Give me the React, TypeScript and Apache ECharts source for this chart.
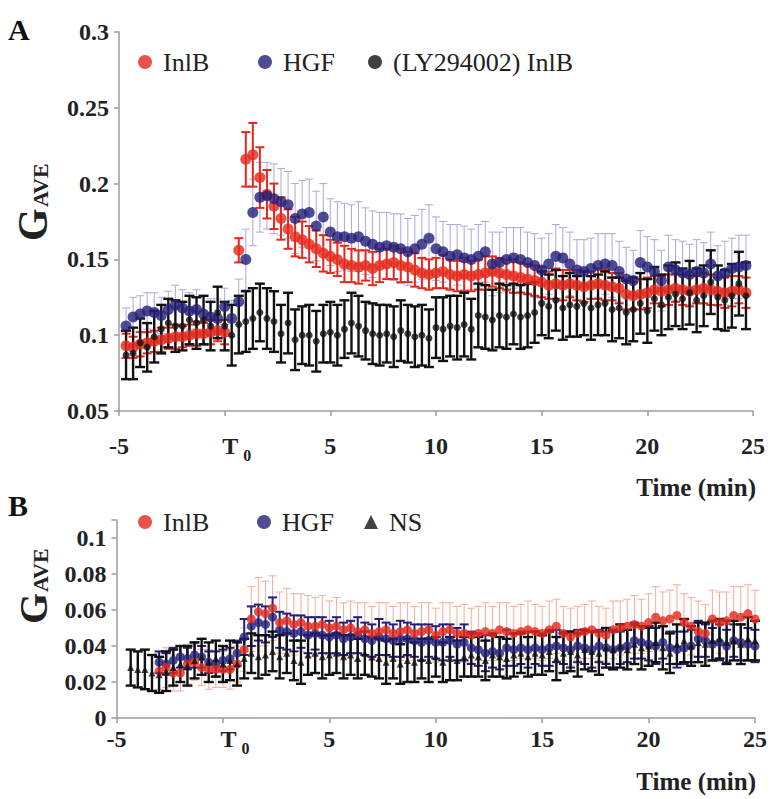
import React, { useEffect, useRef } from 'react';
import * as echarts from 'echarts';

// sampling grid: every 20 s from -5 to 25 min (k = 0..90)
const TIME_MIN: number[] = Array.from({ length: 91 }, (_, k) => Math.round((-5 + k / 3) * 1000) / 1000);

// ---------- Panel A ----------
const inlbA: (number | null)[] = [
  null,
  0.093, 0.092, 0.094, 0.095, 0.096, 0.097, 0.098, 0.099, 0.099, 0.100, 0.101, 0.101, 0.102, 0.103, 0.102,
  null,
  0.156, 0.216, 0.219, 0.204, 0.193, 0.185, 0.177, 0.170, 0.165, 0.163, 0.160, 0.157, 0.154,
  0.152, 0.150, 0.147, 0.146, 0.145, 0.146, 0.144, 0.146, 0.147, 0.148, 0.146, 0.145, 0.143, 0.141, 0.140,
  0.141, 0.142, 0.140, 0.139, 0.140, 0.139, 0.140, 0.141, 0.142, 0.141, 0.140, 0.139, 0.138, 0.137, 0.136,
  0.135, 0.133, 0.134, 0.133, 0.134, 0.133, 0.132, 0.133, 0.134, 0.133, 0.132, 0.131, 0.127, 0.126, 0.127,
  0.128, 0.130, 0.129, 0.130, 0.131, 0.130, 0.129, 0.130, 0.131, 0.130, 0.129, 0.128, 0.129, 0.130, 0.128,
  null,
];
const inlbAErr: (number | null)[] = [
  null,
  0.008, 0.007, 0.008, 0.007, 0.007, 0.008, 0.007, 0.008, 0.007, 0.007, 0.008, 0.007, 0.008, 0.007, 0.008,
  null,
  0.008, 0.018, 0.021, 0.020, 0.016, 0.015, 0.014, 0.013, 0.013, 0.012, 0.012, 0.012, 0.012,
  0.011, 0.011, 0.012, 0.011, 0.011, 0.010, 0.011, 0.011, 0.010, 0.011, 0.011, 0.010, 0.011, 0.010, 0.010,
  0.010, 0.011, 0.010, 0.010, 0.011, 0.010, 0.010, 0.011, 0.010, 0.010, 0.010, 0.011, 0.010, 0.010, 0.010,
  0.010, 0.009, 0.010, 0.010, 0.009, 0.010, 0.010, 0.009, 0.010, 0.010, 0.009, 0.010, 0.010, 0.009, 0.010,
  0.010, 0.009, 0.010, 0.010, 0.009, 0.010, 0.010, 0.009, 0.010, 0.010, 0.009, 0.010, 0.010, 0.009, 0.010,
  null,
];
const hgfA: (number | null)[] = [
  null,
  0.106, 0.112, 0.114, 0.116, 0.115, 0.113, 0.117, 0.120, 0.118, 0.116, 0.117, 0.114, 0.112, 0.111, 0.119,
  0.111, 0.122, 0.150, 0.181, 0.191, 0.192, 0.190, 0.188, 0.186, 0.177, 0.180, 0.181, 0.172, 0.178,
  0.168, 0.165, 0.165, 0.164, 0.165, 0.162, 0.160, 0.158, 0.159, 0.158, 0.157, 0.155, 0.157, 0.160, 0.164,
  0.157, 0.155, 0.152, 0.153, 0.151, 0.150, 0.152, 0.155, 0.147, 0.148, 0.150, 0.151, 0.150, 0.148, 0.146,
  0.143, 0.147, 0.152, 0.151, 0.147, 0.143, 0.142, 0.144, 0.146, 0.147, 0.146, 0.142, 0.137, 0.136, 0.148,
  0.145, 0.142, 0.136, 0.145, 0.143, 0.141, 0.140, 0.142, 0.141, 0.147, 0.139, 0.141, 0.144, 0.145, 0.146,
  null,
];
const hgfAErr: (number | null)[] = [
  null,
  0.012, 0.013, 0.012, 0.012, 0.013, 0.012, 0.012, 0.013, 0.012, 0.012, 0.013, 0.012, 0.012, 0.013, 0.012,
  0.012, 0.015, 0.020, 0.022, 0.023, 0.022, 0.023, 0.022, 0.022, 0.023, 0.022, 0.022, 0.023, 0.022,
  0.022, 0.023, 0.022, 0.022, 0.023, 0.022, 0.022, 0.023, 0.022, 0.022, 0.023, 0.022, 0.022, 0.023, 0.022,
  0.021, 0.020, 0.021, 0.020, 0.021, 0.020, 0.021, 0.020, 0.021, 0.020, 0.021, 0.020, 0.021, 0.020, 0.021,
  0.021, 0.020, 0.021, 0.020, 0.021, 0.020, 0.021, 0.020, 0.021, 0.020, 0.021, 0.020, 0.021, 0.020, 0.021,
  0.020, 0.021, 0.020, 0.021, 0.020, 0.021, 0.020, 0.021, 0.020, 0.021, 0.020, 0.021, 0.020, 0.021, 0.020,
  null,
];
const lyA: (number | null)[] = [
  null,
  0.087, 0.088, 0.095, 0.092, 0.099, 0.104, 0.108, 0.106, 0.106, 0.110, 0.108, 0.110, 0.106, 0.115, 0.106,
  0.100, 0.107, 0.109, 0.111, 0.115, 0.111, 0.109, 0.101, 0.108, 0.097, 0.100, 0.100, 0.096, 0.101, 0.102,
  0.100, 0.104, 0.108, 0.106, 0.103, 0.101, 0.100, 0.101, 0.099, 0.103, 0.101, 0.099, 0.100, 0.098, 0.105,
  0.104, 0.106, 0.105, 0.107, 0.104, 0.113, 0.112, 0.110, 0.113, 0.112, 0.114, 0.112, 0.113, 0.115, 0.121,
  0.119, 0.123, 0.118, 0.120, 0.119, 0.121, 0.118, 0.120, 0.121, 0.117, 0.118, 0.115, 0.117, 0.121, 0.116,
  0.124, 0.120, 0.125, 0.127, 0.124, 0.128, 0.123, 0.126, 0.135, 0.125, 0.123, 0.126, 0.134, 0.126,
  null,
];
const lyAErr: (number | null)[] = [
  null,
  0.016, 0.017, 0.016, 0.016, 0.017, 0.016, 0.016, 0.017, 0.016, 0.016, 0.017, 0.016, 0.016, 0.017, 0.016,
  0.020, 0.019, 0.020, 0.020, 0.019, 0.020, 0.020, 0.019, 0.020, 0.020, 0.019, 0.020, 0.020, 0.019, 0.020,
  0.020, 0.019, 0.020, 0.020, 0.019, 0.020, 0.020, 0.019, 0.020, 0.020, 0.019, 0.020, 0.020, 0.019, 0.020,
  0.021, 0.020, 0.021, 0.021, 0.020, 0.021, 0.021, 0.020, 0.021, 0.021, 0.020, 0.021, 0.021, 0.020, 0.021,
  0.021, 0.020, 0.021, 0.021, 0.020, 0.021, 0.021, 0.020, 0.021, 0.021, 0.020, 0.021, 0.021, 0.020, 0.021,
  0.021, 0.020, 0.021, 0.021, 0.020, 0.021, 0.021, 0.020, 0.021, 0.021, 0.020, 0.021, 0.021, 0.022,
  null,
];

// ---------- Panel B ----------
const inlbB: (number | null)[] = [
  null, null, null, null, null, null,
  0.026, 0.028, 0.025, 0.025, 0.030, 0.031, 0.028, 0.027, 0.027, 0.027, 0.027, 0.030,
  0.038, 0.055, 0.059, 0.058, 0.061, 0.053, 0.054, 0.052, 0.053, 0.051, 0.051, 0.052,
  0.050, 0.051, 0.049, 0.050, 0.048, 0.049, 0.047, 0.048, 0.049, 0.047, 0.048, 0.049, 0.047, 0.048, 0.049,
  0.046, 0.048, 0.049, 0.047, 0.047, 0.046, 0.047, 0.048, 0.047, 0.049, 0.048, 0.047, 0.048, 0.049, 0.048,
  0.047, 0.049, 0.051, 0.047, 0.045, 0.047, 0.048, 0.049, 0.047, 0.046, 0.049, 0.050, 0.051, 0.052, 0.051,
  0.053, 0.056, 0.054, 0.055, 0.057, 0.053, 0.051, 0.048, 0.047, 0.055, 0.053, 0.054, 0.057, 0.056, 0.058, 0.055,
];
const inlbBErr: (number | null)[] = [
  null, null, null, null, null, null,
  0.010, 0.011, 0.010, 0.010, 0.011, 0.010, 0.010, 0.011, 0.010, 0.010, 0.011, 0.010,
  0.012, 0.018, 0.019, 0.018, 0.018, 0.017, 0.018, 0.017, 0.016, 0.017, 0.016, 0.016,
  0.015, 0.016, 0.015, 0.015, 0.016, 0.015, 0.015, 0.016, 0.015, 0.015, 0.016, 0.015, 0.015, 0.016, 0.015,
  0.015, 0.016, 0.015, 0.015, 0.016, 0.015, 0.015, 0.016, 0.015, 0.015, 0.016, 0.015, 0.015, 0.016, 0.015,
  0.015, 0.016, 0.015, 0.015, 0.016, 0.015, 0.015, 0.016, 0.015, 0.015, 0.016, 0.015, 0.015, 0.016, 0.015,
  0.016, 0.017, 0.016, 0.016, 0.017, 0.016, 0.016, 0.017, 0.016, 0.016, 0.017, 0.016, 0.016, 0.017, 0.016, 0.016,
];
const hgfB: (number | null)[] = [
  null, null, null, null, null, null,
  0.031, 0.030, 0.032, 0.034, 0.033, 0.035, 0.034, 0.031, 0.030, 0.032, 0.033, 0.036,
  0.045, 0.051, 0.053, 0.052, 0.056, 0.049, 0.048, 0.047, 0.048, 0.046, 0.047, 0.046,
  0.045, 0.046, 0.044, 0.045, 0.046, 0.044, 0.043, 0.045, 0.044, 0.043, 0.044, 0.044, 0.043, 0.042, 0.043,
  0.042, 0.042, 0.043, 0.041, 0.042, 0.039, 0.038, 0.036, 0.037, 0.036, 0.039, 0.038, 0.039, 0.038, 0.039,
  0.038, 0.039, 0.040, 0.039, 0.038, 0.040, 0.039, 0.038, 0.040, 0.039, 0.038, 0.039, 0.040, 0.043, 0.042,
  0.041, 0.040, 0.042, 0.039, 0.038, 0.039, 0.040, 0.044, 0.043, 0.041, 0.042, 0.040, 0.043, 0.042, 0.041, 0.040,
];
const hgfBErr: (number | null)[] = [
  null, null, null, null, null, null,
  0.006, 0.006, 0.007, 0.006, 0.006, 0.007, 0.006, 0.006, 0.007, 0.006, 0.006, 0.007,
  0.010, 0.011, 0.010, 0.010, 0.011, 0.010, 0.010, 0.010, 0.009, 0.010, 0.009, 0.010,
  0.009, 0.010, 0.009, 0.009, 0.010, 0.009, 0.009, 0.010, 0.009, 0.009, 0.010, 0.009, 0.009, 0.010, 0.009,
  0.009, 0.010, 0.009, 0.009, 0.010, 0.009, 0.009, 0.010, 0.009, 0.009, 0.010, 0.009, 0.009, 0.010, 0.009,
  0.009, 0.010, 0.009, 0.009, 0.010, 0.009, 0.009, 0.010, 0.009, 0.009, 0.010, 0.009, 0.009, 0.010, 0.009,
  0.009, 0.010, 0.009, 0.009, 0.010, 0.009, 0.009, 0.010, 0.009, 0.009, 0.010, 0.009, 0.009, 0.010, 0.009, 0.009,
];
const nsB: (number | null)[] = [
  null, null,
  0.028, 0.027, 0.027, 0.025, 0.024, 0.026, 0.028, 0.030, 0.029, 0.032, 0.034, 0.031, 0.033, 0.030,
  0.032, 0.030, 0.033, 0.036, 0.034, 0.035, 0.037, 0.034, 0.036, 0.032, 0.031, 0.035, 0.036, 0.034, 0.035,
  0.036, 0.034, 0.035, 0.033, 0.036, 0.034, 0.033, 0.031, 0.033, 0.030, 0.032, 0.031, 0.033, 0.032, 0.034,
  0.031, 0.033, 0.032, 0.034, 0.035, 0.034, 0.032, 0.035, 0.034, 0.033, 0.035, 0.036, 0.034, 0.036, 0.035,
  0.037, 0.033, 0.036, 0.037, 0.035, 0.038, 0.037, 0.036, 0.039, 0.038, 0.040, 0.038, 0.041, 0.039, 0.040,
  0.042, 0.039, 0.036, 0.041, 0.043, 0.040, 0.042, 0.041, 0.043, 0.044, 0.042, 0.043, 0.041, 0.044, 0.043,
];
const nsBErr: (number | null)[] = [
  null, null,
  0.010, 0.010, 0.011, 0.010, 0.010, 0.011, 0.010, 0.010, 0.011, 0.010, 0.010, 0.011, 0.010, 0.010,
  0.011, 0.012, 0.011, 0.011, 0.012, 0.011, 0.011, 0.012, 0.011, 0.011, 0.012, 0.011, 0.011, 0.012, 0.011,
  0.011, 0.012, 0.011, 0.011, 0.012, 0.011, 0.011, 0.012, 0.011, 0.011, 0.012, 0.011, 0.011, 0.012, 0.011,
  0.011, 0.012, 0.011, 0.011, 0.012, 0.011, 0.011, 0.012, 0.011, 0.011, 0.012, 0.011, 0.011, 0.012, 0.011,
  0.011, 0.012, 0.011, 0.011, 0.012, 0.011, 0.011, 0.012, 0.011, 0.011, 0.012, 0.011, 0.011, 0.012, 0.011,
  0.011, 0.012, 0.011, 0.011, 0.012, 0.011, 0.011, 0.012, 0.011, 0.011, 0.012, 0.011, 0.011, 0.012, 0.011,
];

const X_TICKS = [-5, 0, 5, 10, 15, 20, 25];

const FAMILY = 'Liberation Serif';
const FONT = "'Liberation Serif', serif";
const RED = '#e5281c';
const NAVY = '#231f78';
const BLACK = '#111111';
const AXIS_GRAY = '#9c9c9c';

const toPoints = (vals: (number | null)[]) =>
  vals.map((v, i) => (v == null ? null : [TIME_MIN[i], v])).filter(Boolean) as number[][];
const toErr = (vals: (number | null)[], err: (number | null)[]) =>
  vals
    .map((v, i) => (v == null || err[i] == null ? null : [TIME_MIN[i], v - (err[i] as number), v + (err[i] as number)]))
    .filter(Boolean) as number[][];

function errSeries(name: string, grid: number, data: number[][], color: string, width: number, cap: number) {
  return {
    name,
    type: 'custom',
    xAxisIndex: grid,
    yAxisIndex: grid,
    silent: true,
    encode: { x: 0, y: [1, 2] },
    data,
    renderItem: (_p: any, api: any) => {
      const t = api.value(0);
      const lo = api.coord([t, api.value(1)]);
      const hi = api.coord([t, api.value(2)]);
      const style = { stroke: color, lineWidth: width };
      return {
        type: 'group',
        children: [
          { type: 'line', shape: { x1: lo[0], y1: lo[1], x2: hi[0], y2: hi[1] }, style },
          { type: 'line', shape: { x1: hi[0] - cap, y1: hi[1], x2: hi[0] + cap, y2: hi[1] }, style },
          { type: 'line', shape: { x1: lo[0] - cap, y1: lo[1], x2: lo[0] + cap, y2: lo[1] }, style },
        ],
      };
    },
  };
}

const labelText = { color: '#222', fontFamily: FAMILY, fontWeight: 'bold' as const, fontSize: 24 };

function xAxis(grid: number, margin: number) {
  return {
    gridIndex: grid,
    type: 'value',
    min: -5,
    max: 25,
    interval: 5,
    splitLine: { show: false },
    axisLine: { show: true, onZero: false, lineStyle: { color: AXIS_GRAY, width: 1.5 } },
    axisTick: { show: true, length: 5, lineStyle: { color: AXIS_GRAY, width: 1.5 } },
    axisLabel: {
      margin,
      ...labelText,
      formatter: (v: number) => (X_TICKS.indexOf(v) < 0 ? '' : v === 0 ? '{t|T}{s|0}' : '{n|' + v + '}'),
      rich: {
        n: { ...labelText },
        t: { ...labelText, padding: [0, 0, 8, 24] },
        s: { ...labelText, fontSize: 16, padding: [10, 0, 0, 5] },
      },
    },
  };
}

function yAxis(grid: number, min: number, max: number, interval: number, labels: number[]) {
  return {
    gridIndex: grid,
    type: 'value',
    min,
    max,
    interval,
    splitLine: { show: false },
    axisLine: { show: true, onZero: false, lineStyle: { color: AXIS_GRAY, width: 1.5 } },
    axisTick: { show: true, length: 5, lineStyle: { color: AXIS_GRAY, width: 1.5 } },
    axisLabel: {
      margin: 10,
      ...labelText,
      formatter: (v: number) => (labels.some((l) => Math.abs(l - v) < 1e-9) ? '{n|' + String(+v.toFixed(3)) + '}' : ''),
      rich: { n: { ...labelText } },
    },
  };
}

function legendItem(name: string, icon: string, left: number, top: number) {
  return {
    data: [{ name, icon }],
    left,
    top,
    padding: 0,
    itemWidth: 14,
    itemHeight: 14,
    selectedMode: false,
    textStyle: { fontFamily: FAMILY, fontSize: 26, color: '#222', padding: [0, 0, 0, 6] },
  };
}

function yName(cx: number, bottomY: number, gSize: number, subSize: number, gap: number) {
  return [
    {
      type: 'text',
      x: cx,
      y: bottomY,
      rotation: Math.PI / 2,
      style: { text: 'G', font: `bold ${gSize}px ${FONT}`, fill: '#222', align: 'left', verticalAlign: 'middle' },
    },
    {
      type: 'text',
      x: cx + 7,
      y: bottomY - gap,
      rotation: Math.PI / 2,
      style: { text: 'AVE', font: `bold ${subSize}px ${FONT}`, fill: '#222', align: 'left', verticalAlign: 'middle' },
    },
  ];
}

export default function App() {
  const ref = useRef<HTMLDivElement>(null);
  useEffect(() => {
    if (!ref.current) return;
    const chart = echarts.init(ref.current, null, { renderer: 'svg' });
    const option: any = {
      animation: false,
      backgroundColor: '#ffffff',
      textStyle: { fontFamily: FAMILY },
      grid: [
        { left: 119, top: 32, width: 634, height: 379 },
        { left: 116.5, top: 520, width: 638.5, height: 198 },
      ],
      xAxis: [xAxis(0, 23), xAxis(1, 9)],
      yAxis: [
        yAxis(0, 0.05, 0.3, 0.05, [0.05, 0.1, 0.15, 0.2, 0.25, 0.3]),
        yAxis(1, 0, 0.11, 0.02, [0, 0.02, 0.04, 0.06, 0.08, 0.1]),
      ],
      legend: [
        legendItem('InlB', 'circle', 138, 49),
        legendItem('HGF', 'circle', 258, 49),
        legendItem('(LY294002) InlB', 'circle', 368, 49),
        legendItem('InlB', 'circle', 138, 509),
        legendItem('HGF', 'circle', 257, 509),
        legendItem('NS', 'triangle', 364, 509),
      ],
      series: [
        // Panel A
        errSeries('HGF-errA', 0, toErr(hgfA, hgfAErr), '#a9a9dc', 1, 4),
        errSeries('InlB-errA', 0, toErr(inlbA, inlbAErr), RED, 2, 4.5),
        { name: 'InlB', type: 'scatter', xAxisIndex: 0, yAxisIndex: 0, symbol: 'circle', symbolSize: 11, itemStyle: { color: RED }, data: toPoints(inlbA), silent: true },
        { name: 'HGF', type: 'scatter', xAxisIndex: 0, yAxisIndex: 0, symbol: 'circle', symbolSize: 11, itemStyle: { color: NAVY }, data: toPoints(hgfA), silent: true },
        errSeries('LY-errA', 0, toErr(lyA, lyAErr), BLACK, 2.4, 5),
        { name: '(LY294002) InlB', type: 'scatter', xAxisIndex: 0, yAxisIndex: 0, symbol: 'circle', symbolSize: 7, itemStyle: { color: BLACK }, data: toPoints(lyA), silent: true },
        // Panel B
        errSeries('InlB-errB', 1, toErr(inlbB, inlbBErr), '#f4ad98', 1, 4),
        errSeries('HGF-errB', 1, toErr(hgfB, hgfBErr), NAVY, 2, 4.5),
        { name: 'HGF', type: 'scatter', xAxisIndex: 1, yAxisIndex: 1, symbol: 'circle', symbolSize: 9, itemStyle: { color: NAVY }, data: toPoints(hgfB), silent: true },
        { name: 'InlB', type: 'scatter', xAxisIndex: 1, yAxisIndex: 1, symbol: 'circle', symbolSize: 9, itemStyle: { color: RED }, data: toPoints(inlbB), silent: true },
        errSeries('NS-errB', 1, toErr(nsB, nsBErr), BLACK, 2.4, 5),
        { name: 'NS', type: 'scatter', xAxisIndex: 1, yAxisIndex: 1, symbol: 'triangle', symbolSize: 7, itemStyle: { color: BLACK }, data: toPoints(nsB), silent: true },
      ],
      graphic: [
        { type: 'text', x: 8, y: 14, style: { text: 'A', font: `bold 30px ${FONT}`, fill: '#111' } },
        { type: 'text', x: 8, y: 490, style: { text: 'B', font: `bold 30px ${FONT}`, fill: '#111' } },
        ...yName(33, 241, 42, 22, 34),
        ...yName(33, 624, 40, 22, 32),
        { type: 'text', x: 756, y: 487, style: { text: 'Time (min)', font: `bold 25px ${FONT}`, fill: '#222', align: 'right', verticalAlign: 'middle' } },
        { type: 'text', x: 756, y: 781, style: { text: 'Time (min)', font: `bold 25px ${FONT}`, fill: '#222', align: 'right', verticalAlign: 'middle' } },
      ],
    };
    chart.setOption(option);
    return () => chart.dispose();
  }, []);
  return <div ref={ref} style={{ position: 'absolute', left: 0, top: 0, width: 771, height: 799 }} />;
}
